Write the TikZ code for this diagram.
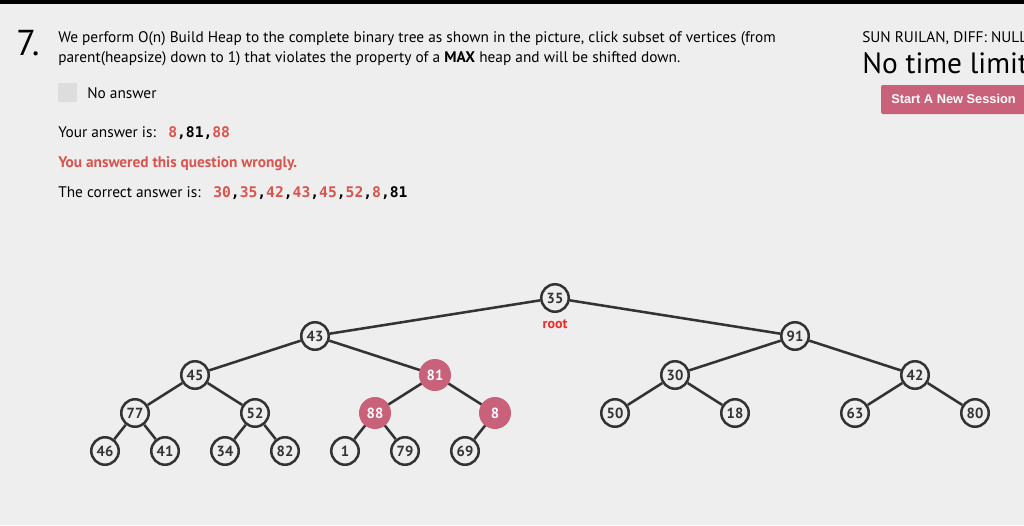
\documentclass[tikz,border=0pt]{standalone}
\usepackage{fontspec}
\setmainfont{PT Sans}
\setmonofont{DejaVu Sans Mono}
\newfontfamily\btnfont{Liberation Sans}

\definecolor{pagebg}{HTML}{EEEEEE}
\definecolor{inkgray}{HTML}{333333}
\definecolor{heappink}{HTML}{C9617A}
\definecolor{wrongred}{HTML}{D9534F}
\definecolor{rootred}{HTML}{EE2B2B}
\definecolor{boxgray}{HTML}{DDDDDD}

\begin{document}
\begin{tikzpicture}[x=0.75pt, y=-0.75pt,
    vertex/.style={circle, draw=inkgray, line width=1.9pt, fill=pagebg,
        minimum size=20.6pt, inner sep=0pt, text=inkgray,
        font=\bfseries\fontsize{11}{12}\selectfont},
    hotvertex/.style={vertex, draw=heappink, fill=heappink, text=white,
        minimum size=22.1pt},
    treeedge/.style={draw=inkgray, line width=1.9pt},
    txt/.style={anchor=base west, inner sep=0pt,
        font=\fontsize{11.5}{13}\selectfont}
]

% --- Page background and top bar ---
\fill[pagebg] (0,0) rectangle (1024,525);
\useasboundingbox (0,0) rectangle (1024,525);
\fill[black] (0,0) rectangle (1024,4);

% --- Question header ---
\node[txt, font=\fontsize{27}{30}\selectfont] (qnum) at (16,55) {7.};
\node[txt] (qline1) at (58,42.2) {We perform O(n) Build Heap to the complete binary tree as shown in the picture, click subset of vertices (from};
\node[txt] (qline2) at (58,62.2) {parent(heapsize) down to 1) that violates the property of a \textbf{MAX} heap and will be shifted down.};

% --- Answer block ---
\fill[boxgray] (58,83) rectangle (77,102);
\node[txt] (noans) at (87,98) {No answer};
\node[txt] (yourlbl) at (58,137) {Your answer is:};
\node[txt, font=\ttfamily\bfseries\fontsize{11}{12}\selectfont] (yourans) at (168,137)
    {\textcolor{wrongred}{8},81,\textcolor{wrongred}{88}};
\node[txt, text=wrongred, font=\bfseries\fontsize{11.5}{13}\selectfont] (wrong) at (58,167)
    {You answered this question wrongly.};
\node[txt] (correctlbl) at (58,197) {The correct answer is:};
\node[txt, font=\ttfamily\bfseries\fontsize{11}{12}\selectfont] (correctans) at (213,197)
    {\textcolor{wrongred}{30},\textcolor{wrongred}{35},\textcolor{wrongred}{42},\textcolor{wrongred}{43},\textcolor{wrongred}{45},\textcolor{wrongred}{52},\textcolor{wrongred}{8},81};

% --- Session panel (right) ---
\node[txt] (author) at (862,42) {SUN RUILAN, DIFF: NULL};
\node[txt, font=\fontsize{22}{25}\selectfont] (timelimit) at (862,73.5) {No time limit};
\fill[heappink, rounded corners=1.5pt] (881,85) rectangle (1034,114);
\node[txt, text=white, font=\btnfont\bfseries\fontsize{9.6}{12}\selectfont] (session) at (891,103.8)
    {Start A New Session};

% --- Heap vertices ---
\foreach \v/\x/\y in {35/555/298, 43/315/336, 91/795/336, 45/195/375,
                      30/675/375, 42/915/375, 77/135/413, 52/255/413,
                      50/615/413, 18/735/413, 63/855/413, 80/975/413,
                      46/105/451, 41/165/451, 34/225/451, 82/285/451,
                      1/345/451, 79/405/451, 69/465/451}
    \node[vertex] (n\v) at (\x,\y) {\v};
\foreach \v/\x/\y in {81/435/375, 88/375/413, 8/495/413}
    \node[hotvertex] (n\v) at (\x,\y) {\v};

\node[anchor=base, inner sep=0pt, text=rootred,
      font=\bfseries\fontsize{10.5}{12}\selectfont] (rootlbl) at (555,328) {root};

% --- Heap edges ---
\foreach \a/\b in {35/43, 35/91, 43/45, 43/81, 91/30, 91/42,
                   45/77, 45/52, 81/88, 81/8, 30/50, 30/18, 42/63, 42/80,
                   77/46, 77/41, 52/34, 52/82, 88/1, 88/79, 8/69}
    \draw[treeedge] (n\a) -- (n\b);

\end{tikzpicture}
\end{document}
